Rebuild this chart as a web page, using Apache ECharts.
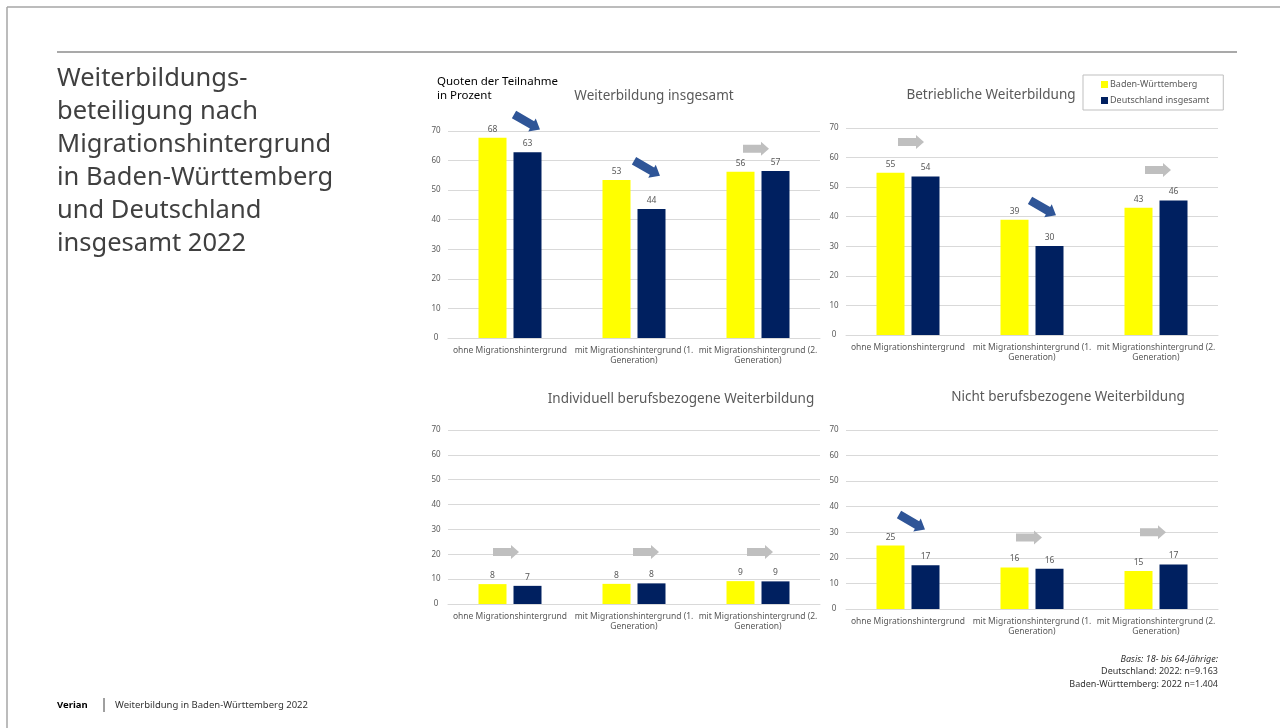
<!DOCTYPE html>
<html><head><meta charset="utf-8">
<script src="https://cdn.jsdelivr.net/npm/echarts@6/dist/echarts.min.js"></script>
<style>html,body{margin:0;padding:0;background:#fff}#c{width:1280px;height:728px}</style>
</head><body><div id="c"></div>
<script>
// ---------- DATA ----------
const categories = ['ohne Migrationshintergrund', 'mit Migrationshintergrund (1. Generation)', 'mit Migrationshintergrund (2. Generation)'];
const seriesNames = ['Baden-Württemberg', 'Deutschland insgesamt'];
const panelTitles = ['Weiterbildung insgesamt', 'Betriebliche Weiterbildung', 'Individuell berufsbezogene Weiterbildung', 'Nicht berufsbezogene Weiterbildung'];
const yTicks = [0, 10, 20, 30, 40, 50, 60, 70];

const bwInsgesamt = [67.7, 53.4, 56.2];
const deInsgesamt = [62.8, 43.6, 56.5];
const bwBetrieblich = [54.9, 39.0, 43.0];
const deBetrieblich = [53.6, 30.1, 45.5];
const bwIndividuell = [8.0, 8.1, 9.2];
const deIndividuell = [7.3, 8.3, 9.1];
const bwNicht = [24.8, 16.2, 14.9];
const deNicht = [17.1, 15.7, 17.4];

// trend arrows (BW vs. DE) per category
const trendInsgesamt = ['down', 'down', 'flat'];
const trendBetrieblich = ['flat', 'down', 'flat'];
const trendIndividuell = ['flat', 'flat', 'flat'];
const trendNicht = ['down', 'flat', 'flat'];

const axisTitle = 'Quoten der Teilnahme\nin Prozent';
const mainTitle = 'Weiterbildungs-\nbeteiligung nach\nMigrationshintergrund\nin Baden-Württemberg\nund Deutschland\ninsgesamt 2022';
const basisText = ['Basis: 18- bis 64-Jährige:', 'Deutschland: 2022: n=9.163', 'Baden-Württemberg: 2022 n=1.404'];
const footerBrand = 'Verian';
const footerText = 'Weiterbildung in Baden-Württemberg 2022';

// ---------- LAYOUT ----------
const FONT = '"Noto Sans", sans-serif';
// arrow placement: value level on the y axis, plus pixel offset [dx, dy] from the navy bar centre
const panels = [
  { bw: bwInsgesamt, de: deInsgesamt, trend: trendInsgesamt, grid: { left: 448, top: 131, width: 372, height: 207 }, title: { x: 654, y: 89 },
    arrowLevel: [70, 57.4, 64], arrowOff: [[-0.5, -9], [-4.5, 0], [-19.5, 0]] },
  { bw: bwBetrieblich, de: deBetrieblich, trend: trendBetrieblich, grid: { left: 846, top: 128, width: 372, height: 207 }, title: { x: 991, y: 88 },
    arrowLevel: [65.3, 43, 55.8], arrowOff: [[-14.5, 0], [-6.5, 0], [-15.5, 0]] },
  { bw: bwIndividuell, de: deIndividuell, trend: trendIndividuell, grid: { left: 448, top: 430, width: 372, height: 174 }, title: { x: 681, y: 392 },
    arrowLevel: [20.9, 20.9, 20.9], arrowOff: [[-21.5, 0], [-5.5, 0], [-15.5, 0]] },
  { bw: bwNicht, de: deNicht, trend: trendNicht, grid: { left: 846, top: 430, width: 372, height: 179 }, title: { x: 1068, y: 390 },
    arrowLevel: [34, 28, 30], arrowOff: [[-13.5, 0], [-20.5, 0], [-20.5, 0]] }
];
const YELLOW = '#FFFF00', NAVY = '#002060', GRIDC = '#d9d9d9', TXT = '#595959';
const ARROW = 'path://M0,3 L18,3 L18,0 L26,7 L18,14 L18,11 L0,11 Z';

const grids = [], xAxes = [], yAxes = [], series = [], titles = [];
panels.forEach((p, i) => {
  grids.push(Object.assign({ containLabel: false }, p.grid));
  xAxes.push({
    type: 'category', gridIndex: i, data: categories,
    axisLine: { show: true, lineStyle: { color: GRIDC } }, axisTick: { show: false },
    axisLabel: { interval: 0, color: TXT, fontFamily: FONT, fontSize: 8.5, lineHeight: 10, margin: 8,
      formatter: v => v.replace(' Generation)', '\nGeneration)') }
  });
  yAxes.push({
    type: 'value', gridIndex: i, min: yTicks[0], max: yTicks[yTicks.length - 1], interval: 10,
    axisLine: { show: false }, axisTick: { show: false },
    splitLine: { lineStyle: { color: GRIDC } },
    axisLabel: { color: TXT, fontFamily: FONT, fontSize: 8, margin: 12, align: 'center' }
  });
  const lbl = { show: true, position: 'top', distance: 4, color: TXT, fontFamily: FONT, fontSize: 8.5, formatter: d => Math.round(d.value) };
  series.push({ name: seriesNames[0], type: 'bar', xAxisIndex: i, yAxisIndex: i, data: p.bw, barWidth: 28, barGap: '25%',
    itemStyle: { color: YELLOW }, label: lbl });
  series.push({ name: seriesNames[1], type: 'bar', xAxisIndex: i, yAxisIndex: i, data: p.de, barWidth: 28, barGap: '25%',
    itemStyle: { color: NAVY }, label: lbl,
    markPoint: {
      animation: false, label: { show: false },
      data: p.trend.map((t, k) => ({
        coord: [categories[k], p.arrowLevel[k]],
        symbol: ARROW,
        symbolSize: t === 'down' ? [30, 15] : [26, 14],
        symbolRotate: t === 'down' ? -30 : 0,
        symbolOffset: p.arrowOff[k],
        itemStyle: { color: t === 'down' ? '#2F5597' : '#BFBFBF' }
      }))
    } });
  titles.push({ text: panelTitles[i], left: p.title.x, top: p.title.y, textAlign: 'center', padding: 0,
    textStyle: { color: TXT, fontFamily: FONT, fontSize: 13.5, fontWeight: 'normal' } });
});

const graphic = [
  { type: 'line', shape: { x1: 7, y1: 7, x2: 1280, y2: 7 }, style: { stroke: '#a6a6a6', lineWidth: 1.5 } },
  { type: 'line', shape: { x1: 7, y1: 7, x2: 7, y2: 728 }, style: { stroke: '#a6a6a6', lineWidth: 1.5 } },
  { type: 'line', shape: { x1: 57, y1: 52, x2: 1237, y2: 52 }, style: { stroke: '#8c8c8c', lineWidth: 1.5 } },
  { type: 'text', left: 57, top: 62.5, style: { text: mainTitle, font: '25.5px ' + FONT, lineHeight: 33, fill: '#404040' } },
  { type: 'text', left: 437, top: 75, style: { text: axisTitle, font: '11.5px ' + FONT, lineHeight: 14, fill: '#000' } },
  { type: 'text', left: 57, top: 700, style: { text: footerBrand, font: 'bold 9.5px ' + FONT, fill: '#000' } },
  { type: 'line', shape: { x1: 104, y1: 698, x2: 104, y2: 712 }, style: { stroke: '#404040', lineWidth: 1 } },
  { type: 'text', left: 115, top: 700, style: { text: footerText, font: '9.5px ' + FONT, fill: '#333' } },
  { type: 'text', right: 62, top: 655, style: { text: basisText[0], font: 'italic 9px ' + FONT, fill: '#333', textAlign: 'right' } },
  { type: 'text', right: 62, top: 667, style: { text: basisText[1], font: '9px ' + FONT, fill: '#333', textAlign: 'right' } },
  { type: 'text', right: 62, top: 680, style: { text: basisText[2], font: '9px ' + FONT, fill: '#333', textAlign: 'right' } }
];

const chart = echarts.init(document.getElementById('c'), null, { renderer: 'canvas' });
chart.setOption({
  animation: false,
  backgroundColor: '#fff',
  title: titles,
  legend: {
    data: seriesNames, orient: 'vertical', left: 1083, top: 75, width: 139,
    borderColor: '#bfbfbf', borderWidth: 1, padding: [5, 14, 5, 18], itemGap: 7,
    itemWidth: 7, itemHeight: 7, icon: 'rect',
    textStyle: { color: TXT, fontFamily: FONT, fontSize: 9, padding: [0, 0, 0, -3] }
  },
  grid: grids, xAxis: xAxes, yAxis: yAxes, series: series, graphic: graphic
});
</script></body></html>
